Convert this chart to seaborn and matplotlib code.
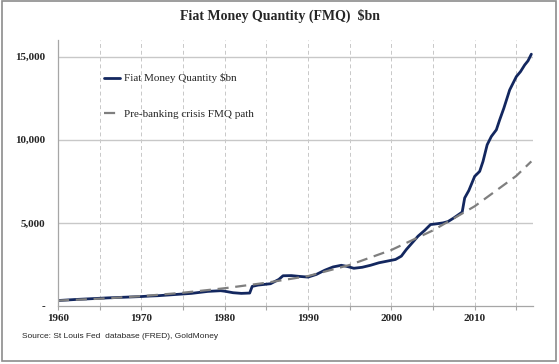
import matplotlib
matplotlib.use('Agg')
import matplotlib.pyplot as plt
import matplotlib.patches as patches
import seaborn as sns

# Fiat money quantity, $bn
fmq_years = [1960.0, 1962.0, 1964.0, 1966.0, 1968.0, 1970.0, 1971.0, 1972.0, 1974.0, 1976.0,
             1978.0, 1979.5, 1980.0, 1981.0, 1982.0, 1983.0, 1983.3, 1984.0, 1985.5, 1986.5,
             1987.0, 1988.0, 1989.0, 1990.0, 1991.0, 1992.0, 1993.0, 1994.0, 1994.7, 1995.5,
             1996.5, 1997.5, 1998.5, 1999.5, 2000.5, 2001.2, 2001.8, 2002.5, 2003.2, 2004.0,
             2004.7, 2005.5, 2006.2, 2006.8, 2007.5, 2008.5, 2008.8, 2009.3, 2010.0, 2010.6,
             2011.0, 2011.5, 2012.0, 2012.6, 2013.0, 2013.5, 2014.2, 2014.5, 2015.0, 2015.5,
             2016.0, 2016.4, 2016.8]
fmq_values = [330, 390, 440, 490, 530, 570, 600, 620, 690, 760,
              880, 920, 890, 800, 760, 780, 1180, 1260, 1340, 1600,
              1820, 1830, 1780, 1740, 1900, 2150, 2350, 2450, 2380, 2270,
              2330, 2450, 2600, 2700, 2800, 3000, 3400, 3800, 4200, 4550,
              4900, 4950, 5000, 5080, 5300, 5650, 6500, 6950, 7800, 8100,
              8700, 9700, 10200, 10600, 11200, 11900, 13000, 13300, 13800, 14100,
              14500, 14750, 15150]

# Pre-banking crisis FMQ path
path_years = [1960, 1965, 1970, 1975, 1980, 1985, 1990, 1995, 2000, 2005, 2010, 2015, 2016.8]
path_values = [330, 440, 590, 800, 1070, 1400, 1800, 2470, 3370, 4550, 6000, 7830, 8700]

x_ticks = [1960, 1965, 1970, 1975, 1980, 1985, 1990, 1995, 2000, 2005, 2010, 2015]
x_labels = ['1960', '', '1970', '', '1980', '', '1990', '', '2000', '', '2010', '']
y_ticks = [0, 5000, 10000, 15000]
y_labels = ['-', '5,000', '10,000', '15,000']

sns.set_style('white')
plt.rcParams['font.family'] = ['Liberation Serif', 'DejaVu Serif']

fig = plt.figure(figsize=(5.59, 3.64), dpi=100)
ax = fig.add_axes([0.1038, 0.1593, 0.8497, 0.7307])

sns.lineplot(x=fmq_years, y=fmq_values, ax=ax, color='#13275f', linewidth=2.0,
             label='Fiat Money Quantity $bn', sort=False)
sns.lineplot(x=path_years, y=path_values, ax=ax, color='#7f7f7f', linewidth=1.6,
             linestyle=(0, (5, 3)), label='Pre-banking crisis FMQ path', sort=False)

ax.set_xlim(1960, 2017)
ax.set_ylim(0, 16000)
ax.set_xticks(x_ticks)
ax.set_xticklabels(x_labels, fontsize=8, fontweight='bold')
ax.set_yticks(y_ticks)
ax.set_yticklabels(y_labels, fontsize=8, fontweight='bold')
ax.tick_params(axis='x', length=3, width=0.8, color='#a6a6a6', pad=3, direction='out', bottom=True)
ax.tick_params(axis='y', length=0, pad=9)

for yv in y_ticks[1:]:
    ax.axhline(yv, color='#c8c8c8', linewidth=1.0, zorder=0)
for xv in x_ticks[1:]:
    ax.axvline(xv, color='#c8c8c8', linewidth=0.7, linestyle=(0, (4, 3)), zorder=0)

for side in ['top', 'right']:
    ax.spines[side].set_visible(False)
for side in ['left', 'bottom']:
    ax.spines[side].set_color('#a6a6a6')
    ax.spines[side].set_linewidth(0.9)

ax.set_xlabel('')
ax.set_ylabel('')

ax.legend(loc='upper left', bbox_to_anchor=(0.075, 0.912), frameon=False, fontsize=8,
          handlelength=1.5, handletextpad=0.3, labelspacing=2.3)

fig.text(0.5, 0.955, 'Fiat Money Quantity (FMQ)  $bn', ha='center', va='center',
         fontsize=10, fontweight='bold')
fig.text(0.04, 0.075, 'Source: St Louis Fed  database (FRED), GoldMoney', ha='left',
         va='center', fontsize=6, family=['Liberation Sans', 'DejaVu Sans'])

fig.patches.append(patches.Rectangle((0.003, 0.008), 0.991, 0.988, transform=fig.transFigure,
                                     fill=False, edgecolor='#8c8c8c', linewidth=1.2))

fig.savefig('out.png', dpi=100)
